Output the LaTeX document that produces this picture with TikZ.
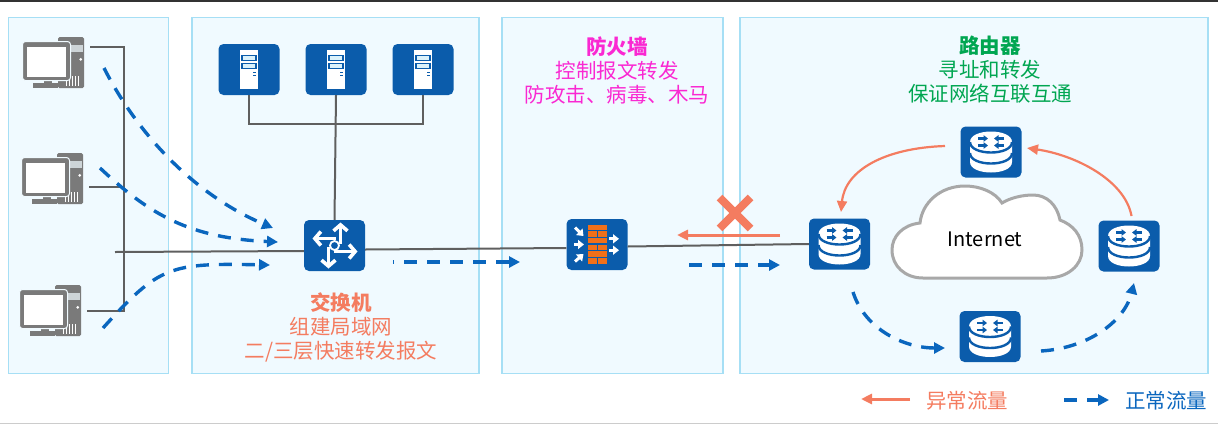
\documentclass[tikz,border=0pt]{standalone}
\usepackage{fontspec}
\setmainfont{Noto Sans CJK SC}
\usetikzlibrary{arrows.meta, shapes.misc}
\definecolor{azulDevice}{RGB}{11,92,171}
\definecolor{azulFlow}{RGB}{10,102,190}
\definecolor{zoneFill}{RGB}{240,250,255}
\definecolor{zoneLine}{RGB}{166,223,245}
\definecolor{linkGray}{RGB}{95,95,95}
\definecolor{pcGray}{RGB}{122,122,122}
\definecolor{badRed}{RGB}{244,124,96}
\definecolor{wallOrange}{RGB}{240,112,26}
\definecolor{wallPink}{RGB}{250,40,210}
\definecolor{routerGreen}{RGB}{0,166,81}
\definecolor{cloudGray}{RGB}{168,168,168}

\begin{document}
\begin{tikzpicture}[
    x=1pt, y=-1pt,
    zone/.style={draw=zoneLine, fill=zoneFill, line width=1.2pt, inner sep=0pt},
    devbox/.style={fill=azulDevice, rounded corners=5pt, minimum width=61pt, minimum height=51pt, inner sep=0pt},
    pcbox/.style={minimum width=74pt, minimum height=52pt, inner sep=0pt},
    link/.style={draw=linkGray, line width=2pt},
    flow/.style={draw=azulFlow, line width=3.4pt, dash pattern=on 13pt off 10pt, -{Triangle[width=11pt,length=11pt]}},
    badflow/.style={draw=badRed, line width=2.2pt, -{Triangle[width=10pt,length=11pt]}},
    blocked/.style={cross out, draw=badRed, line width=8pt, minimum width=23pt, minimum height=23pt, inner sep=0pt},
    txt/.style={align=center, font=\fontsize{20.5}{24}\selectfont},
    pc/.pic={
        \fill[pcGray, rounded corners=1.5pt] (5,-25) rectangle (31,26);
        \fill[zoneFill!70!pcGray] (17,-17) rectangle (30,-10);
        \fill[white] (27.7,-2.7) circle [radius=1.5];
        \foreach \vx in {13,16,19,22,25}
            \draw[white, line width=0.8pt] (\vx,14) -- (\vx,24);
        \fill[pcGray] (-20,21) rectangle (5,26);
        \fill[pcGray] (-9,17) rectangle (-1,22);
        \draw[fill=pcGray, draw=zoneFill, line width=1pt, rounded corners=3pt] (-30.5,-20.5) rectangle (17.5,18.5);
        \fill[white] (-26.5,-15.5) rectangle (12.5,14.5);
    },
    servericon/.pic={
        \fill[white] (-9,-20) rectangle (9,19.5);
        \foreach \sy in {-14,-6}
            \draw[azulDevice, fill=zoneLine!40, line width=1.3pt] (-7,\sy) rectangle (7,\sy+5);
        \foreach \sy in {3,6}
            \draw[azulDevice, line width=1.5pt] (4,\sy) -- (7,\sy);
    },
    switchicon/.pic={
        \begin{scope}[white, line width=3.6pt, -{Straight Barb[length=6pt,width=14pt,line width=3.6pt]}]
            \draw (6,-2) -- (6,-23);
            \draw (1,-7) -- (-22,-7);
            \draw (-1,6) -- (23,6);
            \draw (-6,1) -- (-6,23);
        \end{scope}
        \draw[white, fill=azulDevice, line width=1.8pt] (0,0) circle [radius=4.5];
    },
    wallicon/.pic={
        \foreach \ry in {-20,-6.6,6.8}
            \fill[wallOrange] (-9.5,\ry) rectangle (9.5,\ry+5.5);
        \foreach \ry in {-13.3,0.1,13.5} {
            \fill[wallOrange] (-9.5,\ry) rectangle (-0.5,\ry+5.5);
            \fill[wallOrange] (1,\ry) rectangle (9.5,\ry+5.5);
        }
        \begin{scope}[white, line width=3pt, -{Triangle[width=9pt,length=6pt]}]
            \draw (-22,-17) -- (-13.5,-8.5);
            \draw (-23,0) -- (-13,0);
            \draw (-22,17) -- (-13.5,9.5);
            \draw (12,-5.7) -- (22,-5.7);
            \draw (12,5.7) -- (22,5.7);
        \end{scope}
    },
    routericon/.pic={
        \fill[white] (-21,-10) -- (-21,10) .. controls (-21,24) and (21,24) .. (21,10)
            -- (21,-10) .. controls (21,-24) and (-21,-24) .. cycle;
        \foreach \ay in {-10,1}
            \draw[azulDevice, line width=2.4pt] (-21,\ay) .. controls (-21,\ay+14) and (21,\ay+14) .. (21,\ay);
        \begin{scope}[azulDevice, line width=2.2pt, -{Triangle[width=6.5pt,length=4.5pt]}]
            \foreach \ay in {-13.5,-6.5} {
                \draw (-13,\ay) -- (-3,\ay);
                \draw (13,\ay) -- (3,\ay);
            }
        \end{scope}
    }
]
    \useasboundingbox (0,0) rectangle (1218,424);
    \fill[black!80] (0,0) rectangle (1218,1.8);
    \fill[black!20] (0,422.8) rectangle (1218,424);

    \node[zone, minimum width=160pt, minimum height=356pt] (zoneHosts) at (88.5,195.5) {};
    \node[zone, minimum width=287pt, minimum height=356pt] (zoneSwitch) at (335.5,195.5) {};
    \node[zone, minimum width=221pt, minimum height=356pt] (zoneWall) at (612.5,195.5) {};
    \node[zone, minimum width=468pt, minimum height=356pt] (zoneRouter) at (974,195.5) {};

    \node[pcbox] (pc1) at (53,62) {};
    \node[pcbox] (pc2) at (52,178) {};
    \node[pcbox] (pc3) at (50,310) {};
    \foreach \n in {pc1,pc2,pc3}
        \pic at (\n) {pc};

    \node[devbox] (srv1) at (249,69.5) {};
    \node[devbox] (srv2) at (336,69.5) {};
    \node[devbox] (srv3) at (423,69.5) {};
    \foreach \n in {srv1,srv2,srv3}
        \pic at (\n) {servericon};

    \node[devbox] (sw) at (334.5,245.5) {};
    \pic at (sw) {switchicon};
    \node[devbox] (fw) at (597,244.5) {};
    \pic at (fw) {wallicon};

    \node[devbox] (rtLeft) at (839.5,244) {};
    \node[devbox] (rtTop) at (991,152) {};
    \node[devbox] (rtRight) at (1129,246) {};
    \node[devbox] (rtBottom) at (990,336.5) {};
    \foreach \n in {rtLeft,rtTop,rtRight,rtBottom}
        \pic at (\n) {routericon};

    \draw[draw=cloudGray, fill=white, line width=3pt]
        (923,278) -- (1047,278) .. controls (1068,278) and (1082,265) .. (1082,250)
        .. controls (1082,235) and (1073,225) .. (1060,220)
        .. controls (1057,205) and (1047,195) .. (1033,195)
        .. controls (1022,195) and (1010,198) .. (1002,203)
        .. controls (995,192) and (980,186) .. (965,186)
        .. controls (940,186) and (922,203) .. (920,223)
        .. controls (902,225) and (892,237) .. (892,250)
        .. controls (892,266) and (905,278) .. (923,278) -- cycle;
    \node[font=\fontsize{20}{24}\selectfont] (inet) at (985,239) {Internet};

    \node[txt, text=badRed] (swText) at (341,327) {\textbf{交换机}\\组建局域网\\二/三层快速转发报文};
    \node[txt, text=wallPink] (fwText) at (617,70) {\textbf{防火墙}\\控制报文转发\\防攻击、病毒、木马};
    \node[txt, text=routerGreen] (rtText) at (990,70) {\textbf{路由器}\\寻址和转发\\保证网络互联互通};

    \coordinate (busEnd) at (124,311);
    \coordinate (trunk) at (115,252);
    \draw[link] ([yshift=15pt]pc1.east) -| (busEnd) -- ([yshift=-1pt]pc3.east);
    \draw[link] ([yshift=-9pt]pc2.east) -- ++(35,0);
    \draw[link] (trunk) -- ([yshift=-5.5pt]sw.west);
    \draw[link] ([yshift=-4pt]sw.east) -- ([yshift=-3.5pt]fw.west);
    \draw[link] ([yshift=-2pt]fw.east) -- (rtLeft.west);
    \draw[link] (srv1.south) -- ++(0,29) -| (srv3.south);
    \draw[link] (srv2.south) -- (sw.north);

    % traffic from the hosts into the switch
    \coordinate (hostA) at (104,68);
    \coordinate (hostB) at (100,168);
    \coordinate (hostC) at (103,328);
    \coordinate (swInA) at (273,228);
    \coordinate (swInB) at (278,242);
    \coordinate (swInC) at (270,265);
    \draw[flow] (hostA) .. controls (138,135) and (195,195) .. (swInA);
    \draw[flow] (hostB) .. controls (150,215) and (190,238) .. (swInB);
    \draw[flow] (hostC) .. controls (160,265) and (170,263) .. (swInC);

    \coordinate (swOut) at (393,262);
    \coordinate (wallIn) at (520,262);
    \coordinate (wallOut) at (689,265);
    \coordinate (rtIn) at (780,265);
    \draw[flow, dash phase=12pt] (swOut) -- (wallIn);
    \draw[flow] (wallOut) -- (rtIn);

    \coordinate (badStart) at (780,235);
    \coordinate (badEnd) at (677,235);
    \draw[badflow, line width=3pt] (badStart) -- (badEnd);
    \node[blocked] (stop) at (735,213) {};

    % loop around the cloud
    \coordinate (topOutL) at (945,146);
    \coordinate (leftIn) at (841,212);
    \coordinate (rightOut) at (1131.5,216);
    \coordinate (topInR) at (1027,148);
    \draw[badflow] (topOutL) .. controls (885,148) and (845,170) .. (leftIn);
    \draw[badflow] (rightOut) .. controls (1125,180) and (1075,155) .. (topInR);

    \coordinate (leftOut) at (853,292);
    \coordinate (bottomIn) at (945,348);
    \coordinate (bottomOut) at (1041,351);
    \coordinate (rightIn) at (1134,283);
    \draw[flow] (leftOut) .. controls (865,330) and (905,348) .. (bottomIn);
    \draw[flow] (bottomOut) .. controls (1090,348) and (1125,320) .. (rightIn);

    % legend
    \coordinate (legBadA) at (910,399);
    \coordinate (legBadB) at (861,399);
    \coordinate (legOkA) at (1064,400);
    \coordinate (legOkB) at (1109,400);
    \draw[badflow, line width=3pt] (legBadA) -- (legBadB);
    \draw[flow] (legOkA) -- (legOkB);
    \node[txt, text=badRed] (legBad) at (967,400.5) {异常流量};
    \node[txt, text=azulFlow] (legOk) at (1166,400.5) {正常流量};
\end{tikzpicture}
\end{document}
